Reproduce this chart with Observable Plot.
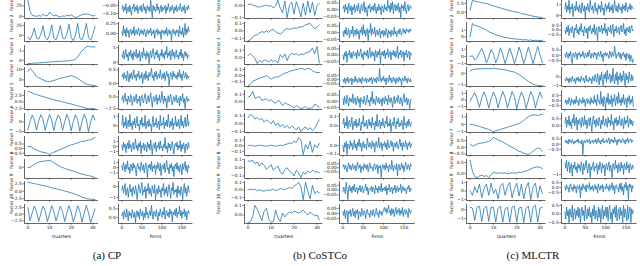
<!DOCTYPE html>
<html><head><meta charset="utf-8">
<script src="https://cdn.jsdelivr.net/npm/d3@7"></script>
<script src="https://cdn.jsdelivr.net/npm/@observablehq/plot@0.6"></script>
<style>
body{margin:0;background:#fff;}
#fig{position:relative;width:640px;height:266px;overflow:hidden;background:#fff;}
#fig svg{position:absolute;overflow:visible;}
.cap{position:absolute;top:249px;font-family:"Liberation Serif","DejaVu Serif",serif;font-size:11px;font-weight:normal;color:#111;transform:translateX(-50%);white-space:nowrap;}
</style></head><body><div id="fig"></div>
<script>
// ---------------- data ----------------
const factorNames = ["Factor 1","Factor 2","Factor 3","Factor 4","Factor 5","Factor 6","Factor 7","Factor 8","Factor 9","Factor 10"];
const captions = ["(a) CP","(b) CoSTCo","(c) MLCTR"];
const quarterTicks = [0,10,20,30];
const firmTicks = [0,50,100,150];

// CP – quarter factors (quarters 0..31)
const cpQ = [
[38,12,3,1,0,2,0,5,2,1,10,5,1,3,0,-2,1,0,3,1,4,0,-3,-1,2,4,5,6,5,3,1,2],
[-5,-12,0,18,-8,-10,2,24,-6,-12,0,26,-8,-12,3,25,-7,-10,2,28,-6,-14,0,30,-8,-12,4,30,-6,-13,2,22],
[-.38,-.36,-.35,-.33,-.32,-.3,-.28,-.27,-.25,-.22,-.2,-.2,-.18,-.15,-.15,-.12,-.12,-.1,-.1,-.08,-.05,0,.1,.35,.7,1,1.25,1.45,1.5,1.45,1.45,1.42],
[8,11,9,6,3,2,1,0,-1,-1.5,-2,-1,-.5,0,1,1.5,2,2.5,3,3.5,4,3.5,2.5,1.5,0,-1.5,-3,-4,-4.5,-5,-5.2,-5.5],
[4.1,3.8,3.5,3.1,2.9,2.6,2.3,2.1,1.8,1.5,1.3,1.1,.9,.6,.4,.3,0,-.2,-.4,-.6,-.8,-1,-1.3,-1.5,-1.7,-2,-2.2,-2.5,-2.6,-2.6,-2.6,-2.6],
[-4,0,3.5,1,-4.2,.5,3.6,1.2,-4.3,0,3.8,1,-4.5,.5,3.5,1.5,-4.4,0,3.8,1,-4.6,.3,3.6,1,-4.8,0,3.8,1.2,-5,0,3.5,1],
[.2,.25,.1,-.05,-.15,-.25,-.35,-.4,-.45,-.5,-.65,-.5,-.4,-.3,-.2,-.1,0,.1,.2,.3,.4,.45,.55,.6,.7,.8,.75,.85,.9,.95,1.05,1.2],
[0,-.1,.5,1,1.4,1.7,1.9,2,2.1,2.2,2.3,2,1.5,1,.6,.2,-.1,-.4,-.7,-.9,-1.1,-1.3,-1.6,-1.9,-2.1,-2.3,-2.5,-2.7,-2.8,-3,-3.2,-3.5],
[3,2.9,2.7,2.6,2.4,2.3,2.1,1.9,1.8,1.6,1.4,1.2,1,.8,.7,.5,.3,.1,-.1,-.3,-.5,-.8,-1,-1.3,-1.6,-1.9,-2.2,-2.5,-2.6,-2.7,-2.7,-2.8],
[2.5,-2.5,.5,3,1,-2.8,.3,3,1.2,-2.8,0,3.2,1,-2.6,.2,3,1,-2.8,.5,3.2,.8,-3,0,3.2,1,-3,.3,3.3,.5,-3.2,-.5,2]
];
const cpQTicks = [["0","25"],["0","25"],["0","1"],["0","10"],["−2.5","0.0","2.5"],["−5","0"],["−0.5","0.0","0.5"],["0"],["−2.5","0.0","2.5"],["−2.5","0.0","2.5"]];

// CP – firm factors (every 2nd firm, 0..168)
const cpF = [
[-.07,-.05,-.09,-.06,-.08,-.04,-.1,-.07,-.06,-.09,-.05,-.08,-.11,-.06,-.07,-.04,-.09,
 -.06,-.08,-.05,-.1,-.07,-.06,-.08,-.05,-.09,-.07,-.04,-.08,-.06,-.1,-.07,-.05,-.08,
 -.06,-.09,-.02,-.07,-.125,-.05,-.08,-.06,-.09,-.07,-.04,-.08,-.06,-.1,-.07,-.05,-.09,
 -.06,-.08,-.07,-.05,-.1,-.06,-.08,-.04,-.07,-.09,-.06,-.08,-.05,-.07,-.1,-.06,-.08,
 -.05,-.09,-.07,-.06,-.08,-.04,-.07,-.09,-.06,-.08,-.05,-.1,-.07,-.06,-.08,-.05,-.07],
[.05,-.05,.2,0,.1,-.08,.15,.02,.08,-.1,.05,.12,-.03,.08,0,.18,-.05,
 .04,.1,-.02,.06,.15,-.06,.02,.1,0,.07,-.04,.12,.03,-.08,.06,.1,-.02,
 .08,.02,.14,-.05,.05,0,.1,-.12,.06,.03,.12,-.04,.08,0,.05,-.15,.1,
 .02,.06,-.03,.09,0,.15,-.06,.04,.1,-.02,.07,-.18,.03,.12,0,.06,-.05,
 .1,.02,.08,-.08,.2,0,.06,-.03,.15,-.1,.05,.26,-.04,.12,.02,.18,.05],
[.5,.3,.8,.2,.6,.9,.35,.55,.1,.7,.45,.85,.3,.6,.15,.75,.5,
 .4,.9,.25,.6,.35,.8,.05,.55,.7,.3,1,.45,.6,.2,.75,.4,.65,
 -.1,.5,.8,.3,.6,.95,.4,.2,.7,.5,.85,.3,.55,.1,.65,.45,.9,
 .35,.6,.2,.75,.5,1.1,.3,.65,.45,.8,.15,.55,.9,.4,.7,.25,.6,
 .85,.35,.5,.2,.7,.45,.9,.3,.6,.1,.55,.75,.4,.65,.25,.5,.45],
[.25,.35,.15,.4,.2,.3,.1,.45,.25,.05,.35,.2,.4,.15,.3,.5,.2,
 .3,.1,.35,.25,.45,.15,.3,.2,.4,0,.25,.35,.15,.45,.2,.3,.1,
 .4,.25,.35,.55,.2,.3,.1,.4,.25,.45,.15,.3,.35,.2,.5,.25,.15,
 .35,.2,.4,.1,.3,.45,.25,.35,-.08,.2,.4,.3,.15,.45,.25,.35,.2,
 .3,.15,.4,.25,.5,.2,.35,.1,.3,.45,.2,.25,.4,.15,.3,.2,.25],
[-.5,.3,-1.2,-.2,.8,-.9,-.4,-1.6,.2,-.7,-1.1,.5,-.3,-1.8,-.6,.1,-1,
 -.2,.6,-1.4,-.5,-.9,.2,-2,-.3,.4,-.8,-1.3,-.1,.7,-.6,-1.5,-.2,.3,
 -1.1,-.4,.9,-.7,-2.2,-.3,.1,-1,-.5,.5,-1.6,-.2,-.8,.4,-1.2,-.6,1.2,
 -.4,-1.4,.2,-.9,-.3,-2.4,-.7,.3,-1.1,-.2,.6,-.8,-1.7,-.4,.1,-1,-.5,
 .4,-1.3,-.6,-.2,-1.9,.2,-.9,-.4,.7,-1.2,-.3,-2.5,-.6,.1,-1,-.4,-.8],
[.1,1.1,-.2,.4,0,.9,-.3,.2,.6,-.1,1.2,0,.3,-.4,.5,.1,.8,
 -.2,.3,1,0,.2,-.5,.6,.1,.9,-.1,.3,0,1.1,-.3,.2,.5,-.1,
 .7,0,.2,-.6,.4,1,-.1,.3,.1,.8,-.2,.2,.5,-.4,1.1,0,.3,
 .1,.9,-.3,.4,0,.6,-.1,1.2,.2,-.2,.5,0,.8,-.4,.3,.1,1,
 -.1,.4,0,.7,-.3,.2,1.1,0,.5,-.2,.3,.9,-.1,.2,1.2,0,.4],
[.3,-.8,.9,-.2,.5,-1.2,.1,.7,-.5,1.2,-.3,.4,-1,.2,.8,-.6,0,
 1.5,-.4,.3,-.9,.6,-.1,1,-1.4,.2,-.3,.7,-.8,.4,.1,-1.1,.9,-.2,
 .5,-.7,1.3,-.1,-1.6,.3,.6,-.4,.9,-1,.2,-.2,.8,-.6,1.1,-.3,0,
 -.9,.4,-.2,1.8,-.5,.1,-1.2,.7,-.3,.5,-.8,.2,1,-.4,-1.5,.3,.6,
 -.1,.9,-.7,.2,-.3,1.2,-1,.4,-.5,.7,0,-1.3,.5,.1,-.6,.8,-.2],
[.4,-.5,1,.2,-.8,.6,-.2,1.3,-.4,.1,-1.1,.7,.3,-.6,.9,-.1,.5,
 -.3,-1.6,.4,.8,-.2,.1,-.7,1.1,.3,-.5,.6,-1,.2,.9,-.3,-1.9,.5,
 0,.7,-.4,1.2,-.8,.3,-.1,.6,-1.3,.4,-.2,1,.1,-.6,.8,-1.5,.2,
 .5,-.3,.9,-.9,.2,1.4,-.4,0,-1.2,.6,-.1,.8,-.7,.3,-1.7,.4,.7,
 -.2,1,-.5,.3,-.9,.6,.1,-1.4,.8,-.3,.2,1.2,-.6,.4,-1,.5,0],
[-.3,.1,-.6,-.2,.3,-.8,-.4,-.1,-1,-.3,.2,-.5,-.2,-.9,0,-.4,-.7,
 .1,-.3,-1.2,-.5,.2,-.2,-.6,-.1,.4,-.8,-.3,-.5,0,-1.1,-.2,-.4,.3,
 -.7,-.1,-.5,-.9,.1,-.3,-.6,.2,-1.2,-.4,-.2,-.7,.1,-.5,-.3,-1,-.1,
 -.4,.3,-.8,-.2,-.6,0,-.9,-.3,.2,-.5,-1.1,-.1,-.4,.4,-.7,-.3,-.5,
 -.2,-1,.1,-.6,-.3,-.8,0,-.4,-1.2,-.2,.3,-.6,-.1,-.9,-.3,.1,-.5],
[.1,.3,-.1,.4,.2,0,.5,.15,-.2,.35,.1,.25,-.05,.45,.2,0,.3,
 -.3,.2,.4,.05,.3,-.1,.5,.2,.1,.35,-.15,.25,0,.6,.15,.3,-.05,
 .2,.4,.1,.7,.2,-.1,.35,.25,.05,.45,.15,-.2,.3,.1,.5,.2,0,
 .35,.15,.6,-.1,.25,.4,.1,.3,0,.5,.2,.35,-.25,.3,.15,.45,.1,
 .55,0,.3,.2,.65,.1,.4,-.05,.3,.2,.5,.05,.35,-.15,.25,.4,.2]
];
const cpFTicks = [["−0.10","−0.05"],["0.00","0.25"],["0","1"],["0.0","0.5"],["−2.5","0.0"],["0","1"],["−1","0","1"],["−1","0","1"],["−1","0"],["0.0","0.5"]];

// CoSTCo – quarter factors
const costcoQ = [
[.01,.015,.005,0,-.01,-.01,-.005,0,.005,-.005,0,-.02,0,.045,-.02,-.06,.04,-.1,0,.03,-.07,.035,-.02,-.095,.02,-.08,.04,-.06,.03,-.08,0,.02],
[-.13,-.12,-.08,-.06,-.05,-.03,-.01,-.02,0,-.02,.01,.02,-.01,-.03,-.04,-.02,.02,.03,.02,.03,.04,.03,.05,.05,.06,.08,.09,.1,.06,.03,.05,.08],
[.03,.05,.02,-.01,-.08,-.04,-.06,-.03,-.04,-.06,-.03,-.05,-.04,-.07,.04,0,.05,-.04,.03,.06,.04,.05,.03,.05,.04,.06,.07,.08,.13,.05,.15,-.07],
[-.17,-.15,-.1,-.08,-.06,-.05,-.03,-.02,0,-.03,-.06,-.04,-.02,-.03,0,.02,.04,.05,.07,.08,.09,.1,.11,.12,.11,.1,.12,.11,.08,.06,.05,.05],
[.06,.08,.14,.05,.06,.07,.02,.03,.04,.01,.03,0,-.02,.02,0,-.05,-.01,-.03,-.04,-.06,-.08,-.05,-.07,-.09,-.08,-.06,-.09,-.085,-.08,-.03,-.05,-.07],
[.08,.12,.1,.06,.08,.05,.07,.02,.05,.03,0,.04,-.02,.01,-.04,-.01,-.05,-.02,-.06,-.03,-.05,-.08,-.04,-.1,-.06,-.04,-.08,-.05,-.09,-.06,0,.05],
[0,.01,0,-.01,0,.01,0,0,-.01,0,.01,0,-.01,0,.01,0,.02,.03,.05,.04,.08,.06,.15,.1,-.16,.02,-.06,.08,-.12,.02,-.04,.04],
[.08,.08,.09,.05,.07,.02,.06,.03,-.02,.01,.04,-.03,0,.02,-.05,-.08,-.02,0,-.04,-.06,-.1,-.03,-.06,-.12,-.05,-.08,-.04,-.06,-.03,-.05,-.05,-.06],
[0,.01,0,.01,-.01,0,-.01,-.02,0,-.01,0,.01,-.01,0,.02,.01,0,.02,.03,.02,.05,.07,.1,.04,-.13,.1,-.02,-.12,.06,-.05,-.02,-.04],
[-.08,-.07,-.02,.1,.06,0,-.06,.04,.07,-.04,-.08,-.07,.05,-.03,-.07,.02,-.02,.01,.03,.02,.04,.03,.02,.03,.05,.02,0,.03,.01,-.01,0,-.05]
];
const costcoQTicks = [["−0.1","0.0"],["−0.1","0.0","0.1"],["0.0","0.1"],["−0.1","0.0","0.1"],["0.0","0.1"],["−0.1","0.0","0.1"],["−0.1","0.0","0.1"],["−0.1","0.0","0.1"],["−0.1","0.0","0.1"],["0.0","0.1"]];

// CoSTCo – firm factors
const costcoF = [
[.01,.03,-.02,.04,0,.02,-.03,.05,.01,-.01,.03,-.04,.02,0,.04,-.02,.01,
 .03,-.01,.05,0,-.03,.02,.04,-.01,.01,.06,-.02,.02,0,-.05,.03,.01,.04,
 -.02,.02,0,.03,-.01,.05,.01,-.03,.02,-.01,.04,0,.02,-.04,.03,.01,-.02,
 .04,0,.02,-.01,.07,.01,.03,-.02,.05,0,.06,-.03,.02,.04,-.01,.03,0,
 .05,-.02,.02,-.06,.04,.01,.03,-.01,.06,0,-.03,.02,.04,-.01,.02,.03,.01],
[.01,-.03,.02,-.01,.04,-.02,0,.03,-.04,.01,.02,-.01,.05,-.03,0,.02,-.02,
 .03,-.01,.01,-.05,.02,0,.04,-.02,.06,-.01,.02,-.03,.01,.03,-.06,.02,0,
 .07,-.02,.03,0,-.01,.04,-.03,.01,.02,-.02,0,.03,-.04,.01,-.01,.02,-.03,
 .01,-.02,.03,0,-.04,.02,-.01,.01,-.03,.02,0,-.02,.04,-.01,.01,-.03,0,
 .02,-.01,.03,0,-.02,.01,.03,0,.02,-.01,.03,.01,.02,0,.03,.01,.02],
[0,-.04,.02,-.01,.03,-.06,.01,0,.04,-.02,.02,-.03,.01,.03,-.01,0,.02,
 -.03,.04,0,-.01,.02,.05,-.02,.01,-.04,.03,0,.02,-.01,.04,-.03,.01,.06,
 -.02,0,.03,-.01,.02,-.05,.04,.01,-.02,.03,0,.05,-.07,.02,0,.03,-.01,
 .04,-.03,.02,0,.05,-.02,.01,.03,-.04,.02,0,.04,-.01,.03,-.02,.01,.07,
 -.03,.02,0,.04,-.02,.01,.03,-.05,.02,0,.04,-.02,.01,.03,-.04,.02,0],
[0,-.03,.02,-.05,.01,-.02,.03,-.04,0,-.01,.02,-.06,.01,0,-.03,.04,-.02,
 .01,-.04,0,.02,-.03,.01,-.05,.03,-.01,0,-.02,.02,-.04,.01,0,-.03,.02,
 -.01,.03,-.05,0,.02,-.02,.01,-.04,.03,0,-.02,.13,.01,-.03,.02,-.01,.04,
 -.02,.01,-.06,.02,0,-.03,.05,-.01,.02,-.04,0,.03,-.02,.01,-.05,.02,0,
 -.03,.03,-.01,.01,-.07,.02,0,-.02,.04,-.01,.01,-.04,.02,0,-.03,.01,-.02],
[.02,-.03,.04,0,-.02,.05,.01,-.04,.03,0,.02,-.01,.06,-.02,.01,.03,-.03,
 0,.04,-.01,.02,-.05,.03,0,.01,-.02,.04,0,-.03,.02,.05,-.01,.01,-.04,
 .03,0,.08,-.02,.02,0,-.03,.04,.01,-.01,.03,-.02,0,.02,-.04,.03,.01,
 -.02,.04,0,.02,-.03,.05,.01,-.01,.03,0,-.05,.02,.04,-.02,.01,.03,-.01,
 .05,0,-.02,.03,.01,-.04,.02,.06,-.01,0,.03,-.03,.02,0,-.06,.01,.02],
[.02,.08,-.02,.04,0,.1,-.03,.03,.06,-.01,.02,.09,-.04,.01,.05,0,.07,
 -.02,.03,0,.08,.01,-.05,.04,.02,.11,-.01,.03,0,.06,-.03,.02,.07,0,
 .04,-.02,.09,.01,.03,-.04,.05,0,.12,-.01,.02,.06,-.03,.04,0,.08,.01,
 -.02,.05,.02,.1,-.01,.03,0,.07,-.06,.02,.04,0,.09,.01,-.03,.05,.02,
 .08,-.01,.03,0,.06,.02,-.04,.1,.01,.03,-.02,.05,0,.07,.02,-.01,.04],
[0,-.08,.03,-.02,.05,-.11,.02,0,-.04,.06,-.01,.03,-.05,.01,.07,-.03,.02,
 -.06,.04,0,.08,-.02,.03,-.07,.01,.05,-.03,.02,0,-.05,.09,.01,-.02,.04,
 0,-.04,.06,-.01,.03,-.08,.02,.05,-.02,0,.1,-.03,.01,.04,-.06,.02,0,
 .05,-.02,.03,-.05,.07,0,-.03,.02,.06,-.01,.04,-.07,.01,.03,-.02,.05,0,
 -.04,.02,.08,-.01,.03,-.06,.04,0,-.02,.06,.01,-.05,.03,0,.05,-.03,.02],
[.01,.04,-.02,.03,0,-.05,.02,.06,-.01,.03,-.03,.01,.05,-.02,0,.03,-.04,
 .02,.07,-.01,0,.04,-.06,.02,.01,-.03,.05,0,.03,-.02,.04,-.05,.01,.06,
 -.01,.02,0,-.04,.03,.05,-.02,.01,.04,-.07,.02,0,.03,-.12,.01,.04,-.01,
 .03,-.03,.06,0,.02,-.05,.04,.01,-.02,.09,0,-.04,.03,.01,-.02,.05,-.1,
 .02,.04,-.03,0,.06,-.01,.03,-.05,.02,.07,0,-.02,.04,.01,-.03,.05,.02],
[-.02,.03,0,-.04,.08,.01,-.1,.02,.05,-.01,.03,-.03,.04,0,.06,-.02,.01,
 .03,-.04,.02,0,.05,-.02,.01,.04,-.03,0,.02,.06,-.01,.03,-.05,.01,.02,
 0,.04,-.02,.03,.01,-.04,.05,0,.02,-.03,.04,.01,-.01,.07,-.02,.02,0,
 .03,-.01,.04,-.05,.02,0,.06,-.02,.01,.03,-.04,.02,0,.05,-.03,.01,.04,
 -.02,.02,0,.06,-.03,.01,.04,-.01,.02,0,-.04,.03,.01,.05,-.02,.02,0],
[.02,-.02,.04,-.05,.01,.03,-.09,.02,0,.04,-.03,.01,.05,-.02,.02,-.04,.03,
 0,.04,-.06,.02,.01,-.03,.05,0,-.02,.03,.01,-.05,.02,.04,-.01,0,-.04,
 .03,.01,-.02,.04,0,-.03,.02,.05,-.01,.01,-.04,.03,0,.02,-.02,.01,.04,
 .06,.02,.05,0,.04,.08,.01,.03,-.02,.05,0,.04,-.03,.02,.06,-.01,.03,
 .01,.05,-.02,.03,0,.06,-.03,.02,.04,-.01,.03,.01,-.04,.05,.02,0,.03]
];
const costcoFTicks = [["−0.05","0.00","0.05"],["−0.05","0.00","0.05"],["−0.05","0.00","0.05"],["−0.05","0.00","0.05"],["−0.05","0.00","0.05"],["0.0","0.1"],["−0.1","0.0"],["−0.05","0.00","0.05"],["−0.05","0.00","0.05"],["−0.05","0.00","0.05"]];

// MLCTR – quarter factors
const mlctrQ = [
[.6,3.4,3.2,3,2.9,2.7,2.6,2.5,2.3,2,1.8,1.6,1.4,1.2,1,.8,.6,.4,.3,.1,0,-.2,-.4,-.5,-.7,-.9,-1,-1.2,-1.3,-1.4,-1.5,-1.6],
[0,2,1.7,1.6,1.5,1.3,1.2,1,.8,.6,.5,.3,.2,.1,0,-.1,-.1,-.2,-.25,-.3,-.3,-.35,-.4,-.45,-.4,-.5,-.45,-.55,-.5,-.5,-.55,-.5],
[0,.1,-.5,-.2,.5,1.1,.3,-.9,-.1,1,.4,-.9,0,1.2,.3,-1,.1,1.2,.2,-1,0,1.3,.3,-1,.1,1.3,.2,-1,.2,1.4,.2,-.9],
[.2,.3,.35,.37,.38,.38,.4,.4,.38,.4,.42,.4,.37,.35,.33,.3,.25,.2,.15,.1,0,-.1,-.25,-.4,-.55,-.7,-.82,-.92,-1,-1.03,-1.05,-1.05],
[-.2,.5,1.1,.2,-1.1,.3,1.2,.3,-1.2,.2,1.2,.4,-1.2,.2,1.3,.4,-1.2,0,1.3,.5,-1.3,.1,1.2,.4,-1.3,0,1.3,.5,-1.2,.1,1.2,.3],
[0,-.05,-.1,-.2,-.3,-.4,-.5,-.6,-.7,-.85,-1,-.9,-.8,-.7,-.6,-.5,-.4,-.3,-.2,-.1,0,.1,.3,.5,.8,1,1.2,1.3,1.25,1.2,1.3,1.35],
[.25,.1,.15,.25,.3,.32,.35,.4,.45,.55,.75,.65,.55,.5,.4,.3,.2,.1,0,-.1,-.2,-.3,-.35,-.45,-.5,-.55,-.45,-.3,-.15,-.05,-.1,-.3],
[.6,.1,-.15,-.2,-.12,-.08,-.15,-.1,-.2,-.05,.05,.02,0,.03,0,.02,-.02,0,.03,0,.02,.05,.04,.08,.1,.15,.2,.25,.28,.3,.28,.22],
[0,-.5,.5,-.2,.8,-.8,.3,.8,-.5,.9,-.3,.2,-.9,.6,.9,-.5,.5,1,-.8,.3,.9,-.6,.8,-.9,.4,1,-1,.5,.9,-.8,.6,-.3],
[.3,.2,-1.2,.3,.4,-1.3,.2,.4,-1.3,.3,.3,-1.4,.2,.4,-1.4,.1,.3,-1.4,.3,.4,-1.4,.2,.3,-1.45,.2,.4,-1.4,.3,.5,-1.4,.2,.3]
];
const mlctrQTicks = [["0.0","2.5"],["0","1"],["−1","0","1"],["−1","0"],["−1","0","1"],["−1","0","1"],["−0.5","0.0","0.5"],["0.0","0.5"],["−1","0","1"],["−1","0"]];

// MLCTR – firm factors
const mlctrF = [
[.6,1.2,.3,.9,.5,1.4,.2,.8,.6,1.1,-.1,.7,.9,.4,1.3,.5,.8,
 .3,1,.6,.2,1.2,.7,.4,.9,-.2,.8,.5,1.1,.6,.3,1.4,.7,.5,
 .9,.2,.8,1.2,.4,.7,.1,1,.6,.9,.3,1.3,.5,.7,0,.8,1.1,
 .4,.9,.6,1.2,.3,.8,.5,1,.2,.7,1.4,.6,.4,.9,.3,1.1,.7,
 .5,.8,.2,1,.6,.9,.4,1.2,.7,.3,.8,.6,1.1,.5,.9,.7,.6],
[0,-.4,.3,-.2,.5,-.6,.1,.2,-.3,.4,-.1,-.8,.2,0,.6,-.3,.1,
 -.5,.3,-.1,.7,-.2,0,-.6,.4,.1,-.3,.2,-.9,.3,-.1,.5,0,-.4,
 .2,-.2,.6,-.5,0,.3,-1.1,.1,.4,-.2,0,.5,-.4,.2,-.1,.7,-.3,
 .1,-.6,.3,0,-.2,.5,-.4,.2,.6,-.7,.1,-.1,.4,-.3,0,.3,-.5,
 .2,.5,-.2,0,.7,-.4,.1,-.6,.3,0,-.2,.4,-.3,.1,.5,-.1,0],
[.1,-.2,.3,0,-.3,.2,-.1,.4,-.5,-.8,.2,0,-.2,.3,.1,-.4,.2,
 0,.3,-.2,.1,-.1,.4,0,-.3,.2,.1,-.2,.3,-.1,.5,0,-.3,.2,
 .1,-.2,.3,0,.2,-.4,.1,.3,-.1,0,.4,-.2,.1,-.6,.2,0,.3,
 -.1,.2,0,-.3,.4,.1,-.2,.3,0,-.1,.85,.2,-.3,.1,0,.3,-.2,
 .2,-.4,.1,0,.3,-.2,.1,-.5,.2,0,-.3,.1,-.6,0,-.2,-.7,-.4],
[-.3,-.5,0,-.4,-.2,-.7,-.1,-.4,-.6,.1,-.3,-.5,-.2,-.8,-.1,-.4,0,
 -.5,-.2,-.6,.1,-.3,-.4,-.1,-.7,-.2,.2,-.5,-.3,-.6,0,-.4,-.2,-.8,
 .1,-.3,-.5,.3,-.2,-.6,.4,-.1,-.9,.2,-.4,.6,-.3,-1,.3,-.2,.5,
 -.6,.8,-.3,-.1,.4,-.7,.2,-.5,1,-.2,-.8,.3,-.4,.6,-.9,.1,-.3,
 .5,-.6,.2,-.4,.7,-.2,-1,.4,-.3,.1,-.7,.6,-.2,-.5,.3,-.4,0],
[-.2,.1,-.4,0,-.3,.3,-.1,-.5,.2,-.2,0,-.4,.1,-.3,.4,-.2,0,
 -.5,.2,-.1,0,-.3,.3,-.2,.1,-.6,0,.2,-.3,.1,-.1,-.4,.3,-.2,
 0,-.3,.5,-.2,.1,-.5,.6,-.1,0,-.4,.9,-.3,.2,-.6,.4,-.1,-.8,
 .3,-.2,.7,-.4,.1,-.3,.5,-.6,.2,-.1,.6,-.5,0,.4,-.3,.8,-.2,
 .1,-.5,.3,-.2,.6,-.4,0,.2,-.7,.3,-.1,.5,-.4,.1,-.2,.4,-.6],
[.2,.6,-.1,.4,.1,.7,0,.3,-.2,.5,.2,.8,0,.3,.6,-.3,.4,
 .1,.5,.2,-.1,.6,.3,0,.7,.1,.4,-.2,.3,.5,0,.6,.2,-.4,
 .3,.7,.1,.4,-.1,.5,.2,0,.6,.3,-.2,.4,.1,.7,.2,0,.5,
 .3,-.1,.6,.2,.4,0,.8,.1,.3,-.3,.5,.2,.6,0,.4,.1,.7,
 .2,0,.5,.3,-.2,.6,.1,.4,.2,.7,-.1,.3,.5,.1,.4,0,.3],
[.2,.4,.1,.3,0,.5,.2,.35,.1,.45,.25,0,.3,.15,.4,.2,.5,
 .1,.3,.25,0,.4,-1,.2,.35,.1,.3,.45,.15,.25,.5,0,.3,.2,
 .4,.1,.35,.2,.5,.05,.3,.6,.15,.35,0,.4,.25,.55,.1,.3,.2,
 .45,.15,.35,.6,0,.3,.5,.2,.4,.1,.65,.25,.35,-.1,.45,.2,.5,
 .3,.1,.4,.55,.2,.35,0,.45,.25,.6,.1,.4,.3,.5,.15,.35,.3],
[-.3,-.6,-.1,-.8,-.4,-.2,-.9,-.5,-.3,-1.1,-.4,-.6,-.2,-.7,-.5,-.9,-.3,
 -.6,-.4,-.8,-.2,-.5,-1,-.3,-.7,-.5,-.1,-.6,-.9,-.4,-.3,-1.2,-.5,-.7,
 -.4,-.2,-.8,-.5,-.6,-.3,-1,-.4,-.7,-.2,-.5,-.9,-.3,-.6,-.4,-1.1,-.5,
 -.3,-.7,-.5,-.2,-.8,-.4,-.6,-1.2,-.3,-.5,-.7,-.1,-.6,-.4,-.9,-.3,-.5,
 -.8,-.2,-.6,-.4,-1,-.3,-.5,-.7,-.2,-.6,-.4,-.9,-.3,-.5,-.7,-.4,-.6],
[.1,-.3,.3,-.1,0,-.5,.2,.4,-.2,0,-.4,.3,-.1,.1,-.6,.2,0,
 -.2,.3,-1.1,.1,-.3,.4,0,-.2,.2,-.5,.3,0,-.1,.5,-.3,.1,-.2,
 .2,-.4,0,.3,-.2,.1,-.6,.4,0,-.3,.2,-.1,.3,-.5,.1,0,-.2,
 .4,-.1,.1,-.4,.3,-.2,0,.5,-.3,.2,-.7,.1,.3,-.1,0,-.5,.4,
 -.2,.5,-.4,.1,-.8,.3,0,.55,-.3,.2,-1.3,.4,0,.3,-.5,.2,0],
[.1,-.3,.4,-.1,.2,-.5,.3,0,-.2,.5,-.4,.1,.3,-.3,.2,-.1,.4,
 -.2,.3,-.5,.1,.4,-.1,.2,-.4,.5,0,-.3,.3,-.1,.4,-.2,.1,-.5,
 .3,-.1,.5,-.3,.2,0,-.4,.4,-.2,.3,-.5,.1,.5,-.3,.2,-.1,.4,
 -.2,.4,-.4,.2,.5,-.3,.1,-.5,.3,0,.4,-.2,.5,-.4,.1,.3,-.3,
 .4,-.1,.2,-.5,.5,-.2,.3,0,-.4,.5,-.3,.2,.4,-.5,.3,0,.2]
];
const mlctrFTicks = [["0","1"],["−0.5","0.0","0.5"],["−0.5","0.0","0.5"],["−1","0"],["−0.5","0.0","0.5"],["0.0","0.5"],["−0.5","0.0","0.5"],["−1","0"],["−0.5","0.0","0.5"],["−0.5","0.0","0.5"]];

// ---------------- layout (pixels) ----------------
const panels = [
  {q: cpQ, qt: cpQTicks, f: cpF, ft: cpFTicks, qLeft: 23.6, qW: 73.9, fLeft: 117.6, fW: 74.4, labelX: 11, capX: 107},
  {q: costcoQ, qt: costcoQTicks, f: costcoF, ft: costcoFTicks, qLeft: 244.4, qW: 78.4, fLeft: 338.6, fW: 75.7, labelX: 218, capX: 320},
  {q: mlctrQ, qt: mlctrQTicks, f: mlctrF, ft: mlctrFTicks, qLeft: 466.4, qW: 79.5, fLeft: 560.6, fW: 75.7, labelX: 451, capX: 533}
];
const ROW0 = -1, PITCH = 22.8, FH = 19;
const FS = 4.4;
const fig = document.getElementById("fig");

function parseTick(s){ return +s.replace("−","-"); }

function subplot(o){
  const ml = 32, mr = 2, mt = 6, mb = o.last ? 22 : 6;
  const data = o.values.map((v,i)=>({x: i*o.step, y: v}));
  const [lo, hi] = d3.extent(o.values);
  const pad = (hi - lo) * 0.05;
  const yDom = [lo - pad, hi + pad];
  const tickPairs = o.ticks.map(s => [parseTick(s), s]).filter(([v]) => v >= yDom[0] && v <= yDom[1]);
  const tmap = new Map(tickPairs);
  const marks = [
    Plot.ruleX([o.xDomain[0]], {stroke: "#000", strokeWidth: 0.6}),
    Plot.ruleY([yDom[0]], {stroke: "#000", strokeWidth: 0.6}),
    Plot.axisY({ticks: tickPairs.map(d=>d[0]), tickFormat: d => tmap.get(d), tickSize: 1.8, tickPadding: 1, label: null, strokeWidth: 0.5}),
    Plot.axisX({ticks: o.xTicks, tickFormat: o.last ? d => String(d) : () => "", tickSize: 1.8, tickPadding: 1, label: null, strokeWidth: 0.5}),
    Plot.lineY(data, {x: "x", y: "y", stroke: "#1f77b4", strokeWidth: 0.8}),
  ];
  if (o.yLabel) marks.push(Plot.text([o.yLabel], {text: d => d, frameAnchor: "left", rotate: -90, dx: -o.labelOff, dy: o.labelDy || 0, fontSize: FS, fill: "#111"}));
  if (o.last) marks.push(Plot.text([o.xLabel], {text: d => d, frameAnchor: "bottom", dy: 14.5, fontSize: FS, fill: "#111"}));
  const chart = Plot.plot({
    width: o.fw + ml + mr, height: FH + mt + mb,
    marginLeft: ml, marginRight: mr, marginTop: mt, marginBottom: mb,
    style: {fontSize: FS + "px", fontFamily: "DejaVu Sans", color: "#111", background: "transparent", overflow: "visible"},
    x: {domain: o.xDomain},
    y: {domain: yDom},
    marks
  });
  chart.style.left = (o.left - ml) + "px";
  chart.style.top = (o.top - mt) + "px";
  fig.appendChild(chart);
}

panels.forEach((p, pi) => {
  for (let r = 0; r < 10; r++) {
    const top = ROW0 + PITCH * r, last = r === 9;
    subplot({values: p.q[r], step: 1, xDomain: [-1.55, 32.55], xTicks: quarterTicks, ticks: p.qt[r],
      left: p.qLeft, fw: p.qW, top, last, xLabel: "Quarters", yLabel: factorNames[r],
      labelOff: p.qLeft - p.labelX, labelDy: r === 0 ? 2 : 0});
    subplot({values: p.f[r], step: 2, xDomain: [-8.45, 177.45], xTicks: firmTicks, ticks: p.ft[r],
      left: p.fLeft, fw: p.fW, top, last, xLabel: "Firms"});
  }
  const cap = document.createElement("div");
  cap.className = "cap"; cap.textContent = captions[pi]; cap.style.left = p.capX + "px";
  fig.appendChild(cap);
});
</script></body></html>
